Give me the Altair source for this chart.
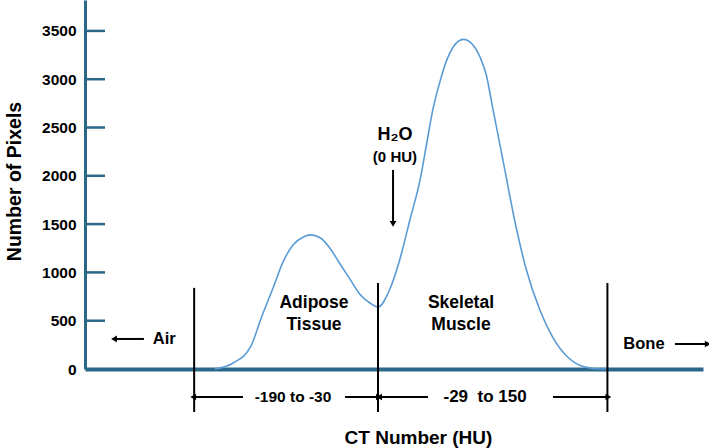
import altair as alt
import pandas as pd

# Curve (HU vs. number of pixels)
hu = [-172, -156, -141, -131, -121, -113, -104, -95, -89, -80, -72, -63, -54, -46, -37, -30,
      -21, -13, -5, 3, 8, 13, 19, 24, 29, 37, 44.5, 50, 55, 60, 68, 78, 86, 97, 107, 118, 131, 144, 150]
counts = [0, 62, 228, 549, 849, 1098, 1284, 1367, 1388, 1356, 1253, 1087, 922, 777, 683, 642,
          818, 1129, 1543, 1957, 2320, 2682, 2993, 3200, 3334, 3412, 3355, 3231, 3044, 2703,
          2164, 1491, 1046, 611, 331, 135, 26, 0, 0]

# y tick values
y_ticks = [0, 500, 1000, 1500, 2000, 2500, 3000, 3500]

# Boundaries between tissues (HU)
bound_hu = [-190, -30, 150]
bound_top = [840, 890, 890]
bound_bottom = [-445, -445, -445]

# Horizontal arrows: start, end (head), level
arr_start = [-147.5, -58.7, 9.2, 107.3, -233.7, 203]
arr_end = [-190, -30, -28.4, 150, -258.9, 228]
arr_y = [-290, -290, -290, -290, 311, 259]

# Water arrow (vertical)
w_hu = [-18.2]
w_top = [2061]
w_bottom = [1512]

# Text labels
lab_text = ["Adipose", "Tissue", "Skeletal", "Muscle", "-190 to -30", "-29\u00a0 to 150",
            "Air", "Bone", "H₂O", "(0 HU)"]
lab_hu = [-85.7, -85.7, 35.1, 35.1, -104, 54, -216, 178.7, -16.7, -16.7]
lab_y = [683, 456, 683, 456, -290, -290, 311, 259, 2423, 2195]
lab_size = [17.5, 17.5, 17.5, 17.5, 15.5, 17, 16.5, 16.5, 18, 15]

X_MIN, X_MAX = -285, 225
TICK_END = -267.6  # inward tick end on the HU scale

AXIS = "#2a6788"
CURVE = "#5b9bd5"
FONT = "Liberation Sans"

xs = alt.Scale(domain=[X_MIN, -30, X_MAX], range=[0, 293, 618])
ys = alt.Scale(domain=[0, 3820], nice=False, zero=True)

curve_df = pd.DataFrame({"hu": hu, "n": counts})
curve = alt.Chart(curve_df).mark_line(color=CURVE, strokeWidth=1.6, interpolate="monotone").encode(
    x=alt.X("hu:Q", scale=xs,
            axis=alt.Axis(labels=False, ticks=False, grid=False, domainColor=AXIS, domainWidth=4,
                          title="CT Number (HU)", titleFont=FONT, titleFontSize=19,
                          titleFontWeight="bold", titleColor="black",
                          titleX=333, titleY=68, titleBaseline="middle", titleAlign="center")),
    y=alt.Y("n:Q", scale=ys,
            axis=alt.Axis(values=y_ticks, format="d", ticks=False, grid=False,
                          domainColor=AXIS, domainWidth=3,
                          labelFont=FONT, labelFontSize=15.5, labelFontWeight="bold",
                          labelColor="black", labelPadding=9,
                          title="Number of Pixels", titleFont=FONT, titleFontSize=19.5,
                          titleFontWeight="bold", titleColor="black",
                          titleX=-71, titleY=181, titleAngle=270,
                          titleBaseline="middle", titleAlign="center")),
)

tick_df = pd.DataFrame({"t": y_ticks[1:]})
tick_df["a"] = X_MIN
tick_df["b"] = TICK_END
ticks = alt.Chart(tick_df).mark_rule(color=AXIS, strokeWidth=2.5).encode(
    x=alt.X("a:Q", scale=xs), x2="b:Q", y=alt.Y("t:Q", scale=ys)
)

bound_df = pd.DataFrame({"hu": bound_hu, "top": bound_top, "bot": bound_bottom})
bounds = alt.Chart(bound_df).mark_rule(color="black", strokeWidth=2).encode(
    x=alt.X("hu:Q", scale=xs), y=alt.Y("top:Q", scale=ys), y2="bot:Q"
)

arr_df = pd.DataFrame({"s": arr_start, "e": arr_end, "y": arr_y})
arr_df["ang"] = [90 if e > s else 270 for s, e in zip(arr_start, arr_end)]
arr_lines = alt.Chart(arr_df).mark_rule(color="black", strokeWidth=2).encode(
    x=alt.X("s:Q", scale=xs), x2="e:Q", y=alt.Y("y:Q", scale=ys)
)
arr_heads = alt.Chart(arr_df).mark_point(shape="triangle", filled=True, color="black",
                                         size=45, opacity=1).encode(
    x=alt.X("e:Q", scale=xs), y=alt.Y("y:Q", scale=ys),
    angle=alt.Angle("ang:Q", scale=None)
)

w_df = pd.DataFrame({"hu": w_hu, "top": w_top, "bot": w_bottom})
w_line = alt.Chart(w_df).mark_rule(color="black", strokeWidth=2).encode(
    x=alt.X("hu:Q", scale=xs), y=alt.Y("top:Q", scale=ys), y2="bot:Q"
)
w_head = alt.Chart(w_df).mark_point(shape="triangle", filled=True, color="black",
                                    size=45, opacity=1, angle=180).encode(
    x=alt.X("hu:Q", scale=xs), y=alt.Y("bot:Q", scale=ys)
)

lab_df = pd.DataFrame({"t": lab_text, "hu": lab_hu, "y": lab_y, "fs": lab_size})
labels = alt.Chart(lab_df).mark_text(font=FONT, fontWeight="bold", color="black",
                                     align="center", baseline="middle").encode(
    x=alt.X("hu:Q", scale=xs), y=alt.Y("y:Q", scale=ys), text="t:N",
    size=alt.Size("fs:Q", scale=None)
)

chart = alt.layer(curve, ticks, bounds, arr_lines, arr_heads, w_line, w_head, labels).properties(
    width=618, height=369,
    autosize=alt.AutoSizeParams(type="none"),
    padding={"left": 85, "top": 0, "right": 6, "bottom": 79},
    background="white",
).configure_view(stroke=None)

chart.save("out.html", embed_options={"renderer": "svg", "actions": False})
